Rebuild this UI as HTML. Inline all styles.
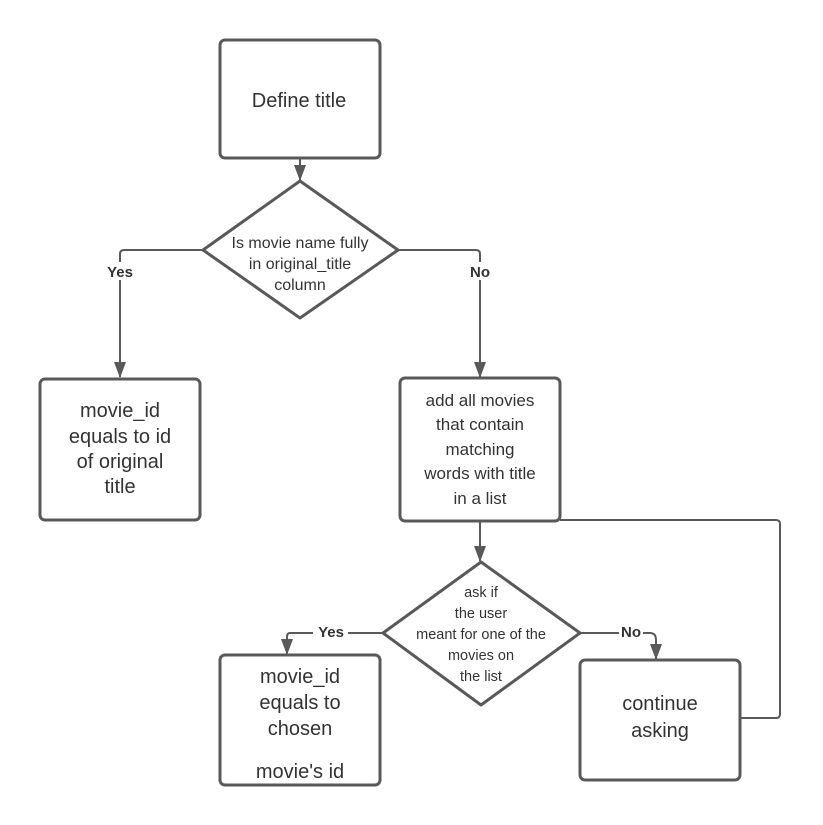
<!DOCTYPE html>
<html><head><style>body{margin:0;background:#fff}</style></head><body>
<svg width="823" height="825" xmlns="http://www.w3.org/2000/svg" style="display:block">
<defs><marker id="a" markerWidth="16" markerHeight="12" refX="15" refY="6" orient="auto" markerUnits="userSpaceOnUse" viewBox="0 0 16 12"><path d="M0,0 L16,6 L0,12Z" fill="#595959"/></marker></defs>
<g fill="none" stroke="#595959" stroke-width="3" stroke-linejoin="round">
<rect x="220" y="40" width="160" height="118" rx="5"/>
<path d="M300,181 L398,250 L300,318 L203,250Z"/>
<rect x="40" y="379" width="160" height="141" rx="5"/>
<rect x="400" y="378" width="160" height="143" rx="5"/>
<path d="M481,562 L580,633 L481,705 L383,633Z"/>
<rect x="220" y="655" width="160" height="130" rx="5"/>
<rect x="580" y="660" width="160" height="120" rx="5"/>
</g>
<g fill="none" stroke="#595959" stroke-width="2">
<path d="M300,158 V180" marker-end="url(#a)"/>
<path d="M203,250 H124 Q120,250 120,254 V377" marker-end="url(#a)"/>
<path d="M398,250 H476 Q480,250 480,254 V377" marker-end="url(#a)"/>
<path d="M480,521 V561" marker-end="url(#a)"/>
<path d="M383,633 H290 Q287,633 287,637 V654" marker-end="url(#a)"/>
<path d="M580,633 H650 Q656,633 656,640 V659" marker-end="url(#a)"/>
<path d="M560,520 H776 Q780,520 780,524 V714 Q780,718 776,718 H740"/>
</g>
<g fill="#fff"><rect x="104" y="262" width="33" height="18"/><rect x="467" y="262" width="26" height="18"/><rect x="313" y="624" width="35" height="17"/><rect x="619" y="624" width="24" height="17"/></g>
<g font-family="Liberation Sans, sans-serif" fill="#333" text-anchor="middle">
<text x="299" y="107" font-size="20">Define title</text>
<g font-size="16"><text x="300" y="248">Is movie name fully</text><text x="300" y="269">in original_title</text><text x="300" y="290">column</text></g>
<g font-size="15" font-weight="bold"><text x="120" y="277">Yes</text><text x="480" y="277">No</text><text x="331" y="637">Yes</text><text x="631" y="637">No</text></g>
<g font-size="20"><text x="120" y="417">movie_id</text><text x="120" y="443">equals to id</text><text x="120" y="468">of original</text><text x="120" y="493">title</text></g>
<g font-size="17"><text x="480" y="406">add all movies</text><text x="480" y="430">that contain</text><text x="480" y="455">matching</text><text x="480" y="479">words with title</text><text x="480" y="504">in a list</text></g>
<g font-size="14.5"><text x="481" y="597">ask if</text><text x="481" y="618">the user</text><text x="481" y="639">meant for one of the</text><text x="481" y="660">movies on</text><text x="481" y="681">the list</text></g>
<g font-size="20"><text x="300" y="683">movie_id</text><text x="300" y="709">equals to</text><text x="300" y="735">chosen</text><text x="300" y="778">movie's id</text></g>
<g font-size="20"><text x="660" y="710">continue</text><text x="660" y="737">asking</text></g>
</g>
</svg>
</body></html>
